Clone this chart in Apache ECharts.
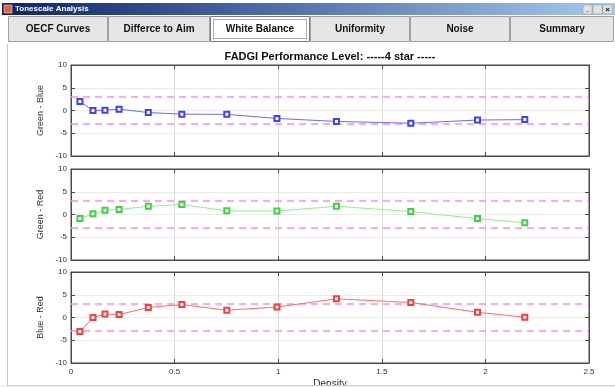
<!DOCTYPE html>
<html>
<head>
<meta charset="utf-8">
<script src="https://cdn.jsdelivr.net/npm/echarts@6/dist/echarts.min.js"></script>
<style>
html,body{margin:0;padding:0;background:#fff;}
#c{width:615px;height:387px;}
</style>
</head>
<body>
<div id="c"></div>
<script>
// ---- data ----
const density = [0.043, 0.106, 0.164, 0.232, 0.373, 0.535, 0.752, 0.994, 1.281, 1.640, 1.962, 2.190];
const greenBlue = [2.0, 0.0, 0.05, 0.3, -0.45, -0.8, -0.85, -1.75, -2.4, -2.8, -2.1, -2.0];
const greenRed  = [-0.9, 0.15, 0.95, 1.1, 1.8, 2.2, 0.8, 0.75, 1.8, 0.65, -0.9, -1.8];
const blueRed   = [-3.1, 0.0, 0.75, 0.65, 2.2, 2.85, 1.6, 2.3, 4.1, 3.3, 1.15, 0.05];
const panelNames = ['Green - Blue', 'Green - Red', 'Blue - Red'];
const panelColors = [
  {line: '#6a6aff', mark: '#4040ff'},
  {line: '#90f090', mark: '#3fd23f'},
  {line: '#ff6a6a', mark: '#ff3a3a'}
];
const tabs = ['OECF Curves', 'Differce to Aim', 'White Balance', 'Uniformity', 'Noise', 'Summary'];
const activeTab = 2;
const limit = 3;
const titleText = 'FADGI Performance Level: -----4 star -----';

const FONT = 'Liberation Sans, Arial, Helvetica, sans-serif';
const chart = echarts.init(document.getElementById('c'), null, {renderer: 'canvas'});

const gridTops = [65, 169, 272];
const gridH = 91;
const grids = [], xAxes = [], yAxes = [], series = [];
const values = [greenBlue, greenRed, blueRed];
const AX = '#4a4a4a';

for (let i = 0; i < 3; i++) {
  grids.push({left: 71, right: 26, top: gridTops[i], height: gridH, show: true,
    outerBoundsMode: 'none', containLabel: false,
    borderColor: AX, borderWidth: 1, backgroundColor: '#fff'});
  const isBottom = i === 2;
  xAxes.push({
    type: 'value', gridIndex: i, min: 0, max: 2.5, interval: 0.5, position: 'bottom',
    axisLine: {show: true, onZero: false, lineStyle: {color: AX}},
    axisTick: {show: true, inside: true, length: 4, lineStyle: {color: AX}},
    axisLabel: {show: isBottom, color: '#333', fontSize: 8, fontFamily: FONT, margin: 5},
    splitLine: {show: true, lineStyle: {color: '#dcdcdc', width: 1}},
    name: isBottom ? 'Density' : '', nameLocation: 'middle', nameGap: 16,
    nameTextStyle: {color: '#333', fontSize: 10, fontFamily: FONT}
  });
  xAxes.push({
    type: 'value', gridIndex: i, min: 0, max: 2.5, interval: 0.5, position: 'top',
    axisLine: {show: true, onZero: false, lineStyle: {color: AX}},
    axisTick: {show: true, inside: true, length: 4, lineStyle: {color: AX}},
    axisLabel: {show: false}, splitLine: {show: false}
  });
  yAxes.push({
    type: 'value', gridIndex: i, min: -10, max: 10, interval: 5, position: 'left',
    axisLine: {show: true, onZero: false, lineStyle: {color: AX}},
    axisTick: {show: true, inside: true, length: 4, lineStyle: {color: AX}},
    axisLabel: {show: true, color: '#333', fontSize: 8, fontFamily: FONT, margin: 4},
    splitLine: {show: true, lineStyle: {color: '#ececec', width: 1}},
    name: panelNames[i], nameLocation: 'middle', nameGap: 20, nameRotate: 90,
    nameTextStyle: {color: '#333', fontSize: 9, fontFamily: FONT}
  });
  yAxes.push({
    type: 'value', gridIndex: i, min: -10, max: 10, interval: 5, position: 'right',
    axisLine: {show: true, onZero: false, lineStyle: {color: AX}},
    axisTick: {show: true, inside: true, length: 4, lineStyle: {color: AX}},
    axisLabel: {show: false}, splitLine: {show: false}
  });
  series.push({
    type: 'line', xAxisIndex: i * 2, yAxisIndex: i * 2,
    data: density.map((d, k) => [d, values[i][k]]),
    symbol: 'emptyRect', symbolSize: 5,
    lineStyle: {color: panelColors[i].line, width: 1},
    itemStyle: {color: panelColors[i].mark, borderWidth: 0.8},
    z: 5,
    markLine: {
      silent: true, symbol: ['none', 'none'], label: {show: false},
      lineStyle: {color: '#ff88ff', width: 1.5, type: [7, 5]},
      data: [{yAxis: limit}, {yAxis: -limit}],
      animation: false
    }
  });
}

// window chrome
const graphic = [];
graphic.push({type: 'rect', shape: {x: 2, y: 3, width: 613, height: 12},
  style: {fill: new echarts.graphic.LinearGradient(0, 0, 1, 0, [
    {offset: 0, color: '#0a246a'}, {offset: 1, color: '#a6caf0'}])}, z: 10});
graphic.push({type: 'rect', shape: {x: 4, y: 5, width: 8, height: 8},
  style: {fill: '#e8642c', stroke: '#fff', lineWidth: 0.5}, z: 11});
graphic.push({type: 'text', x: 15, y: 9,
  style: {text: 'Tonescale Analysis', fill: '#fff', font: 'bold 8px ' + FONT, verticalAlign: 'middle'}, z: 11});
[583, 593, 603].forEach((x) => {
  graphic.push({type: 'rect', shape: {x: x, y: 5, width: 9, height: 9},
    style: {fill: '#e4e2dc', stroke: '#909090', lineWidth: 0.5}, z: 11});
});
graphic.push({type: 'text', x: 587.5, y: 9.5, style: {text: '_', fill: '#000', font: 'bold 7px ' + FONT, align: 'center', verticalAlign: 'middle'}, z: 12});
graphic.push({type: 'text', x: 607.5, y: 9.5, style: {text: '×', fill: '#000', font: 'bold 8px ' + FONT, align: 'center', verticalAlign: 'middle'}, z: 12});

const tabEdges = [8, 108, 210, 310, 410, 510, 614];
for (let t = 0; t < tabs.length; t++) {
  const x0 = tabEdges[t], x1 = tabEdges[t + 1];
  const active = t === activeTab;
  graphic.push({type: 'rect', shape: {x: x0 + 0.5, y: 16.5, width: x1 - x0 - 1, height: 25},
    style: {fill: active ? '#ffffff' : '#e6e6e6', stroke: active ? '#7a7a7a' : '#a0a0a0', lineWidth: 1}, z: 10});
  if (active) {
    graphic.push({type: 'rect', shape: {x: x0 + 3.5, y: 19.5, width: x1 - x0 - 7, height: 19},
      style: {fill: 'none', stroke: '#555', lineWidth: 1, lineDash: [1, 1]}, z: 11});
  }
  graphic.push({type: 'text', x: (x0 + x1) / 2, y: 29.5,
    style: {text: tabs[t], fill: '#111', font: 'bold 10px ' + FONT, align: 'center', verticalAlign: 'middle'}, z: 11});
}
// panel border
graphic.push({type: 'line', shape: {x1: 7.5, y1: 44, x2: 7.5, y2: 385}, style: {stroke: '#c8c8c8', lineWidth: 1}, z: 10});
graphic.push({type: 'rect', shape: {x: 0, y: 385, width: 615, height: 2}, style: {fill: '#f2f2f2'}, z: 20});
graphic.push({type: 'line', shape: {x1: 7, y1: 385.5, x2: 615, y2: 385.5}, style: {stroke: '#c8c8c8', lineWidth: 1}, z: 21});
// title
graphic.push({type: 'text', x: 330, y: 57,
  style: {text: titleText, fill: '#111', font: 'bold 11px ' + FONT, align: 'center', verticalAlign: 'middle'}, z: 10});

chart.setOption({
  animation: false,
  backgroundColor: '#ffffff',
  grid: grids, xAxis: xAxes, yAxis: yAxes, series: series,
  graphic: graphic
});
</script>
</body>
</html>
